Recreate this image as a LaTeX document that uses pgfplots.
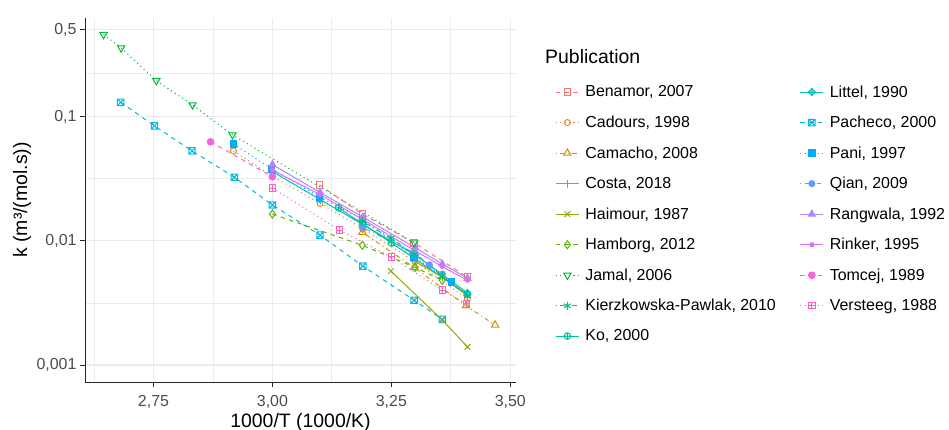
\documentclass[border=0pt]{standalone}
\usepackage{fontspec}
\setmainfont{Liberation Sans}
\usepackage{pgfplots}
\pgfplotsset{compat=1.18}
\usetikzlibrary{plotmarks}

% ggplot hue palette, 17 levels
\definecolor{cBen}{HTML}{F8766D}
\definecolor{cCad}{HTML}{E88526}
\definecolor{cCam}{HTML}{D39200}
\definecolor{cCos}{HTML}{B79F00}
\definecolor{cHai}{HTML}{93AA00}
\definecolor{cHam}{HTML}{5EB300}
\definecolor{cJam}{HTML}{00BA38}
\definecolor{cKie}{HTML}{00BF74}
\definecolor{cKo}{HTML}{00C19F}
\definecolor{cLit}{HTML}{00BFC4}
\definecolor{cPac}{HTML}{00B9E3}
\definecolor{cPan}{HTML}{00ADFA}
\definecolor{cQia}{HTML}{619CFF}
\definecolor{cRan}{HTML}{AE87FF}
\definecolor{cRin}{HTML}{DB72FB}
\definecolor{cTom}{HTML}{F564E3}
\definecolor{cVer}{HTML}{FF61C3}

\pgfdeclareplotmark{boxtimes}{%
  \pgfpathrectangle{\pgfqpoint{-\pgfplotmarksize}{-\pgfplotmarksize}}{\pgfqpoint{2\pgfplotmarksize}{2\pgfplotmarksize}}%
  \pgfpathmoveto{\pgfqpoint{-\pgfplotmarksize}{-\pgfplotmarksize}}\pgfpathlineto{\pgfqpoint{\pgfplotmarksize}{\pgfplotmarksize}}%
  \pgfpathmoveto{\pgfqpoint{-\pgfplotmarksize}{\pgfplotmarksize}}\pgfpathlineto{\pgfqpoint{\pgfplotmarksize}{-\pgfplotmarksize}}%
  \pgfusepathqstroke}
\pgfdeclareplotmark{boxplus}{%
  \pgfpathrectangle{\pgfqpoint{-\pgfplotmarksize}{-\pgfplotmarksize}}{\pgfqpoint{2\pgfplotmarksize}{2\pgfplotmarksize}}%
  \pgfpathmoveto{\pgfqpoint{-\pgfplotmarksize}{0pt}}\pgfpathlineto{\pgfqpoint{\pgfplotmarksize}{0pt}}%
  \pgfpathmoveto{\pgfqpoint{0pt}{\pgfplotmarksize}}\pgfpathlineto{\pgfqpoint{0pt}{-\pgfplotmarksize}}%
  \pgfusepathqstroke}
\pgfdeclareplotmark{diamondplus}{%
  \pgfpathmoveto{\pgfqpoint{0pt}{\pgfplotmarksize}}\pgfpathlineto{\pgfqpoint{\pgfplotmarksize}{0pt}}%
  \pgfpathlineto{\pgfqpoint{0pt}{-\pgfplotmarksize}}\pgfpathlineto{\pgfqpoint{-\pgfplotmarksize}{0pt}}\pgfpathclose
  \pgfpathmoveto{\pgfqpoint{-\pgfplotmarksize}{0pt}}\pgfpathlineto{\pgfqpoint{\pgfplotmarksize}{0pt}}%
  \pgfpathmoveto{\pgfqpoint{0pt}{\pgfplotmarksize}}\pgfpathlineto{\pgfqpoint{0pt}{-\pgfplotmarksize}}%
  \pgfusepathqstroke}

\tikzset{
  ggdash/.style={dash pattern=on 4.4bp off 4.4bp},
  ggdot/.style={dash pattern=on 1.1bp off 3.3bp},
  ggdotdash/.style={dash pattern=on 1.1bp off 3.3bp on 4.4bp off 3.3bp},
}

\begin{document}
\begin{tikzpicture}
\path[use as bounding box] (0,0) rectangle (949bp,430bp);
\begin{axis}[
    at={(85bp,48bp)}, anchor=south west,
    scale only axis, width=431bp, height=364bp,
    ymode=log,
    xmin=2.606, xmax=3.512,
    ymin=0.00073, ymax=0.62,
    axis lines*=left,
    axis line style={black!85, line width=0.9bp, -},
    xtick={2.75,3,3.25,3.5},
    xticklabels={{2,75},{3,00},{3,25},{3,50}},
    ytick={0.001,0.01,0.1,0.5},
    yticklabels={{0,001},{0,01},{0,1},{0,5}},
    minor xtick={2.625,2.875,3.125,3.375},
    minor ytick={0.00316,0.0316,0.2236},
    grid=both,
    major grid style={draw=black!8, line width=1.2bp},
    minor grid style={draw=black!8, line width=0.8bp},
    tick align=outside,
    major tick length=5bp, minor tick length=0bp,
    tick style={black!85, line width=0.9bp},
    ticklabel style={font=\fontsize{16}{18}\selectfont, text=black!70},
    xticklabel style={yshift=-5bp},
    xlabel={1000/T (1000/K)},
    ylabel={k (m³/(mol.s))},
    xlabel style={font=\fontsize{19.5}{22}\selectfont, at={(axis description cs:0.5,-0.125)}, anchor=base},
    ylabel style={font=\fontsize{19.5}{22}\selectfont, at={(axis description cs:-0.146,0.5)}, anchor=center},
    every axis plot/.append style={line width=1bp},
    legend style={at={(axis description cs:1.084,0.826)}, anchor=north west,
      draw=none, fill=none, font=\fontsize{16}{18}\selectfont,
      row sep=13.5bp,
      /tikz/every odd column/.append style={column sep=4bp},
      /tikz/every even column/.append style={column sep=22bp}},
    legend columns=2,
    legend cell align=left,
    legend image code/.code={\draw[mark repeat=2,mark phase=2,#1] plot coordinates {(0bp,0bp) (11.5bp,0bp) (23bp,0bp)};},
]

\addplot[cBen, ggdash, mark=square, mark size=3.2bp, mark options={solid}] coordinates {
  (3.099,0.0281) (3.189,0.0164) (3.298,0.0096) (3.410,0.0051)};
\addlegendentry{Benamor, 2007}

\addplot[cLit, mark=diamondplus, mark size=3.5bp, mark options={solid}] coordinates {
  (3.000,0.0360) (3.100,0.0215) (3.190,0.0135) (3.300,0.0077) (3.410,0.0038)};
\addlegendentry{Littel, 1990}

\addplot[cCad, ggdot, mark=o, mark size=3bp, mark options={solid}] coordinates {
  (2.918,0.0528) (3.000,0.0330) (3.100,0.0200) (3.190,0.0125) (3.300,0.0068) (3.410,0.0034)};
\addlegendentry{Cadours, 1998}

\addplot[cPac, ggdash, mark=boxtimes, mark size=3.2bp, mark options={solid}] coordinates {
  (2.681,0.130) (2.752,0.0841) (2.831,0.0528) (2.920,0.0324) (3.000,0.0194)
  (3.100,0.0111) (3.190,0.00625) (3.298,0.00332) (3.357,0.00233)};
\addlegendentry{Pacheco, 2000}

\addplot[cCam, ggdotdash, mark=triangle, mark size=4.2bp, mark options={solid}] coordinates {
  (3.189,0.0117) (3.298,0.0061) (3.407,0.0030) (3.468,0.0021)};
\addlegendentry{Camacho, 2008}

\addplot[cPan, ggdot, mark=square*, mark size=3.2bp, mark options={solid}] coordinates {
  (2.918,0.0602) (2.998,0.0379) (3.099,0.0225) (3.189,0.0148) (3.298,0.0074) (3.376,0.00465)};
\addlegendentry{Pani, 1997}

\addplot[cCos, mark=+, mark size=4bp, mark options={solid}] coordinates {
  (3.300,0.0068) (3.357,0.0051) (3.410,0.0036)};
\addlegendentry{Costa, 2018}

\addplot[cQia, ggdotdash, mark=*, mark size=3bp, mark options={solid}] coordinates {
  (3.189,0.0128) (3.298,0.0080) (3.330,0.0064) (3.357,0.0054)};
\addlegendentry{Qian, 2009}

\addplot[cHai, mark=x, mark size=4bp, mark options={solid}] coordinates {
  (3.249,0.0057) (3.357,0.0023) (3.410,0.0014)};
\addlegendentry{Haimour, 1987}

\addplot[cRan, mark=triangle*, mark size=4bp, mark options={solid}] coordinates {
  (3.000,0.0410) (3.100,0.0245) (3.190,0.0155) (3.300,0.0088) (3.357,0.0065) (3.410,0.0050)};
\addlegendentry{Rangwala, 1992}

\addplot[cHam, ggdash, mark=diamond, mark size=4bp, mark options={solid}] coordinates {
  (3.000,0.0164) (3.189,0.0092) (3.300,0.0061) (3.357,0.0048)};
\addlegendentry{Hamborg, 2012}

\addplot[cRin, mark=*, mark size=2bp, mark options={solid}] coordinates {
  (3.000,0.0370) (3.100,0.0235) (3.190,0.0148) (3.300,0.0083) (3.357,0.0062) (3.410,0.0048)};
\addlegendentry{Rinker, 1995}

\addplot[cJam, ggdot, mark=triangle, mark size=4.2bp, mark options={solid, rotate=180}] coordinates {
  (2.645,0.456) (2.682,0.356) (2.756,0.194) (2.832,0.124) (2.916,0.0711) (3.298,0.0096)};
\addlegendentry{Jamal, 2006}

\addplot[cTom, ggdash, mark=*, mark size=3.3bp, mark options={solid}] coordinates {
  (2.870,0.0625) (3.000,0.0327)};
\addlegendentry{Tomcej, 1989}

\addplot[cKie, ggdotdash, mark=asterisk, mark size=4bp, mark options={solid}] coordinates {
  (3.189,0.0143) (3.249,0.0105) (3.298,0.0078) (3.357,0.0052) (3.410,0.0036)};
\addlegendentry{Kierzkowska-Pawlak, 2010}

\addplot[cVer, ggdot, mark=boxplus, mark size=3.2bp, mark options={solid}] coordinates {
  (3.000,0.0265) (3.141,0.0122) (3.250,0.0074) (3.357,0.0040) (3.408,0.0031)};
\addlegendentry{Versteeg, 1988}

\addplot[cKo, mark=oplus, mark size=3.3bp, mark options={solid}] coordinates {
  (3.139,0.0184) (3.250,0.0096) (3.410,0.0037)};
\addlegendentry{Ko, 2000}

\end{axis}
\node[anchor=west, font=\fontsize{19.5}{22}\selectfont, inner sep=0pt] at (545bp,373bp) {Publication};
\end{tikzpicture}
\end{document}
